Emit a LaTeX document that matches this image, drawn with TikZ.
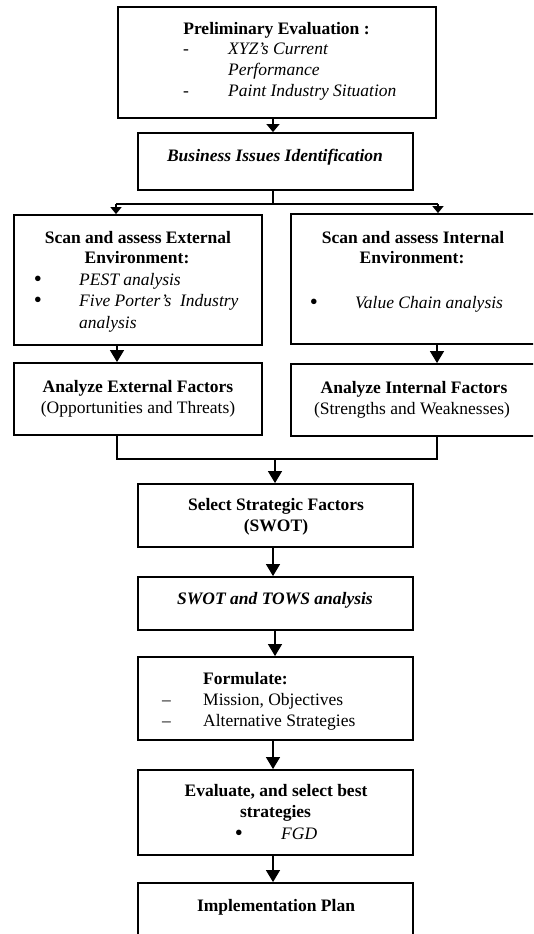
\documentclass[tikz,border=0pt]{standalone}
\usepackage{fontspec}
\setmainfont{Liberation Serif}
\usetikzlibrary{arrows.meta}
\begin{document}
\begin{tikzpicture}[x=1pt,y=-1pt,
  box/.style={draw, line width=1.8pt, rectangle, inner sep=0pt},
  arr/.style={line width=1.3pt, -{Triangle[length=12pt,width=14pt]}},
  sarr/.style={line width=1.3pt, -{Triangle[length=8pt,width=13pt]}},
  ln/.style={line width=1.3pt},
  txt/.style={inner sep=0pt, anchor=base, font=\fontsize{17.5}{21}\selectfont},
  txtl/.style={inner sep=0pt, anchor=base west, font=\fontsize{17.5}{21}\selectfont},
  bul/.style={inner sep=0pt, anchor=base, font=\fontsize{23}{21}\selectfont}]
\useasboundingbox (0,0) rectangle (533,934);
\clip (0,0) rectangle (533,934);
\fill[white] (0,0) rectangle (533,934);
% boxes
\node[box, minimum width=318pt, minimum height=111pt] (b1) at (277,62.5) {};
\node[box, minimum width=275pt, minimum height=57pt] (b2) at (275.5,161.5) {};
\node[box, minimum width=248pt, minimum height=130pt] (b3L) at (138,280) {};
\node[box, minimum width=280pt, minimum height=130pt] (b3R) at (431,279) {};
\node[box, minimum width=248pt, minimum height=72pt] (b4L) at (138,399) {};
\node[box, minimum width=280pt, minimum height=72pt] (b4R) at (431,400) {};
\node[box, minimum width=275pt, minimum height=63pt] (b5) at (275.5,515.5) {};
\node[box, minimum width=275pt, minimum height=53pt] (b6) at (275.5,603.5) {};
\node[box, minimum width=275pt, minimum height=83pt] (b7) at (275.5,698.5) {};
\node[box, minimum width=275pt, minimum height=85pt] (b8) at (275.5,812.5) {};
\node[box, minimum width=275pt, minimum height=90pt] (b9) at (275.5,928) {};
% texts box 1
\node[txt] (t1a) at (276.5,35) {\textbf{Preliminary Evaluation :}};
\node[txtl] (t1b) at (183,55) {-};
\node[txtl] (t1c) at (228,55) {\textit{XYZ’s Current}};
\node[txtl] (t1d) at (228,75.5) {\textit{Performance}};
\node[txtl] (t1e) at (183,96) {-};
\node[txtl] (t1f) at (228,96) {\textit{Paint Industry Situation}};
% box 2
\node[txt] (t2) at (275,161) {\textbf{\textit{Business Issues Identification}}};
% box 3L
\node[txt] (t3a) at (138,243) {\textbf{Scan and assess External}};
\node[txt] (t3b) at (137,263.5) {\textbf{Environment:}};
\node[bul] (t3c) at (38,286) {\textbullet};
\node[txtl] (t3d) at (79,285) {\textit{PEST analysis}};
\node[bul] (t3e) at (38,307.5) {\textbullet};
\node[txtl] (t3f) at (79,306.5) {\textit{Five Porter’s\ \ Industry}};
\node[txtl] (t3g) at (79,328) {\textit{analysis}};
% box 3R
\node[txt] (t4a) at (413,243) {\textbf{Scan and assess Internal}};
\node[txt] (t4b) at (412,263.5) {\textbf{Environment:}};
\node[bul] (t4c) at (314,309) {\textbullet};
\node[txtl] (t4d) at (355,308) {\textit{Value Chain analysis}};
% box 4
\node[txt] (t5a) at (138,392) {\textbf{Analyze External Factors}};
\node[txt] (t5b) at (138,413) {(Opportunities and Threats)};
\node[txt] (t6a) at (414,393) {\textbf{Analyze Internal Factors}};
\node[txt] (t6b) at (412,414.5) {(Strengths and Weaknesses)};
% box 5
\node[txt] (t7a) at (276,510) {\textbf{Select Strategic Factors}};
\node[txt] (t7b) at (276,531) {\textbf{(SWOT)}};
% box 6
\node[txt] (t8) at (275,604) {\textbf{\textit{SWOT and TOWS analysis}}};
% box 7
\node[txtl] (t9a) at (203,684) {\textbf{Formulate:}};
\node[txtl] (t9b) at (162,705) {–};
\node[txtl] (t9c) at (203,705) {Mission, Objectives};
\node[txtl] (t9d) at (162,726.5) {–};
\node[txtl] (t9e) at (203,726.5) {Alternative Strategies};
% box 8
\node[txt] (t10a) at (276,796) {\textbf{Evaluate, and select best}};
\node[txt] (t10b) at (275.5,817.5) {\textbf{strategies}};
\node[bul] (t10c) at (239,840) {\textbullet};
\node[txtl] (t10d) at (281,839) {\textit{FGD}};
% box 9
\node[txt] (t11) at (276,911) {\textbf{Implementation Plan}};
% connectors
\draw[sarr] (b1.south -| 273,0) -- (b2.north -| 273,0);
\coordinate (sp) at (273,204);
\coordinate (spL) at (116,204);
\coordinate (spR) at (438,204);
\draw[ln] (b2.south -| sp) -- (sp);
\draw[ln] (spL) -- (spR);
\draw[line width=1.3pt, -{Triangle[length=7pt,width=11pt]}] (spL) -- (b3L.north -| spL);
\draw[line width=1.3pt, -{Triangle[length=7pt,width=11pt]}] (spR) -- (b3R.north -| spR);
\draw[arr] (b3L.south -| 117,0) -- (b4L.north -| 117,0);
\draw[arr] (b3R.south -| 437,0) -- (b4R.north -| 437,0);
\coordinate (mL) at (117,459);
\coordinate (mR) at (437,459);
\coordinate (mC) at (275,459);
\draw[ln] (b4L.south -| mL) -- (mL) -- (mR) -- (b4R.south -| mR);
\draw[arr] (mC) -- (b5.north -| mC);
\draw[arr] (b5.south -| 273,0) -- (b6.north -| 273,0);
\draw[arr] (b6.south -| 275,0) -- (b7.north -| 275,0);
\draw[arr] (b7.south -| 273,0) -- (b8.north -| 273,0);
\draw[arr] (b8.south -| 273,0) -- (b9.north -| 273,0);
\end{tikzpicture}
\end{document}
